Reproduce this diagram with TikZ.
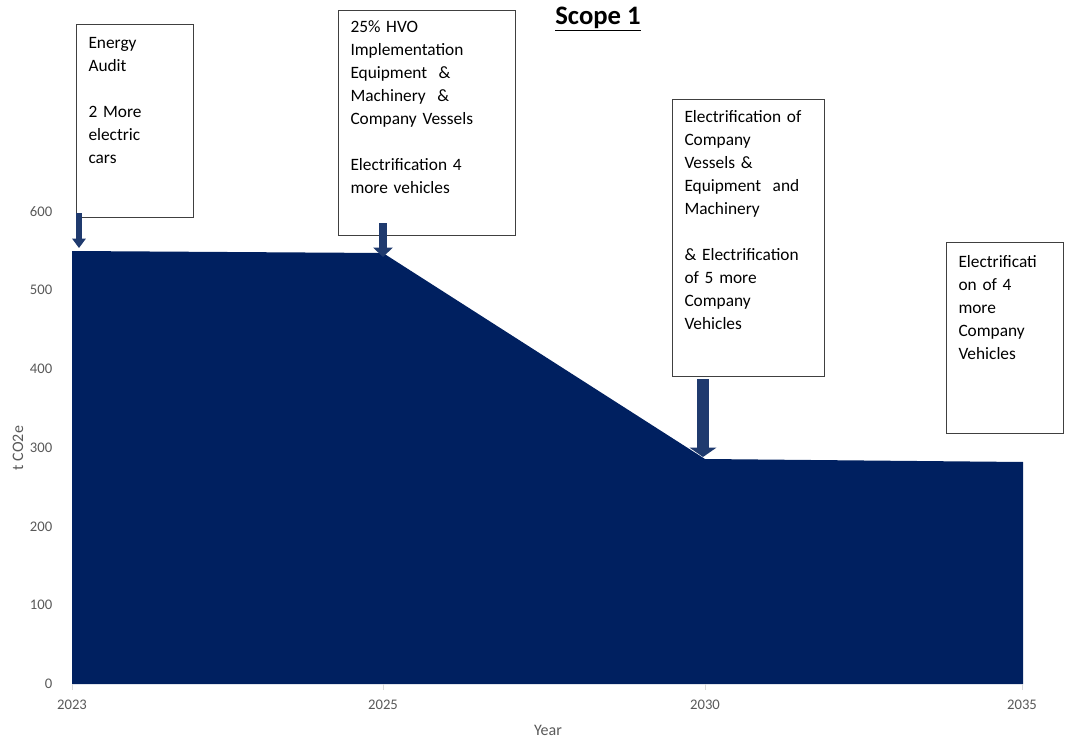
\documentclass[tikz,border=0pt]{standalone}
\usepackage{fontspec}
\setmainfont{Carlito}
\usepackage{tikz}
\usetikzlibrary{arrows.meta}
\definecolor{navy}{HTML}{002060}
\definecolor{arrowblue}{HTML}{1F3A6E}
\definecolor{ticktext}{HTML}{595959}

\tikzset{
  note/.style={draw=black!75, line width=0.75pt, fill=white, anchor=north west,
    inner xsep=9pt, inner ysep=0pt, align=left,
    font=\fontsize{13}{17.25}\selectfont},
  tick/.style={text=ticktext, font=\fontsize{11}{13}\selectfont},
  pointer/.style={draw=arrowblue, -{Triangle[width=#1*2.2pt, length=7pt]}, line width=#1 pt},
}

\begin{document}
\begin{tikzpicture}[x=0.75pt,y=-0.75pt]
  \useasboundingbox (0,0) rectangle (1065,742);

  % area
  \coordinate (base23) at (72,684);
  \coordinate (p2023) at (72,251);
  \coordinate (p2025) at (383,253);
  \coordinate (p2030) at (705,459);
  \coordinate (p2035) at (1023,462);
  \coordinate (base35) at (1023,684);
  \fill[navy] (base23) -- (p2023) -- (p2025) -- (p2030) -- (p2035) -- (base35) -- cycle;

  % axes
  \foreach \v in {0,100,...,600}
    \node[tick, anchor=east] at (57,{684-0.788*\v}) {\v};
  \foreach \xx/\yr in {72/2023,383/2025,705/2030,1022/2035} {
    \draw[black!15, line width=0.5pt] (\xx,684) -- (\xx,690);
    \node[tick] at (\xx,705) {\yr};
  }
  \node[tick, font=\fontsize{12}{14}\selectfont] (xlab) at (548,730) {Year};
  \node[tick, font=\fontsize{12}{14}\selectfont, rotate=90] (ylab) at (18,448) {t CO2e};

  \node[font=\fontsize{20}{24}\selectfont\bfseries] (title) at (598,19) {\underline{Scope 1}};

  % notes
  \node[note, text width=70pt, text height=18pt, text depth=126.75pt] (audit) at (76,24)
    {Energy\\Audit\\[17.25pt]2 More\\electric\\cars};
  \node[note, text width=115pt, text height=16.5pt, text depth=152.25pt] (hvo) at (338,10)
    {25\% HVO\\Implementation\\Equipment~~\&\\Machinery~~\&\\Company Vessels\\[17.25pt]Electrification 4\\more vehicles};
  \node[note, text width=96pt, text height=17.25pt, text depth=190.5pt] (vessels) at (672,99)
    {Electrification of\\Company\\Vessels \&\\Equipment~~and\\Machinery\\[17.25pt]\& Electrification\\of 5 more\\Company\\Vehicles};
  \node[note, text width=70pt, text height=18.75pt, text depth=124.5pt] (fleet) at (946,242)
    {Electrificati\\on of 4\\more\\Company\\Vehicles};

  % pointers
  \coordinate (s1) at (79,213);   \coordinate (e1) at (79,248);
  \coordinate (s2) at (383,223);  \coordinate (e2) at (383,257);
  \coordinate (s3) at (703,379);  \coordinate (e3) at (703,457);
  \draw[pointer=4.5] (s1) -- (e1);
  \draw[pointer=6.5] (s2) -- (e2);
  \draw[pointer=9] (s3) -- (e3);
\end{tikzpicture}
\end{document}
